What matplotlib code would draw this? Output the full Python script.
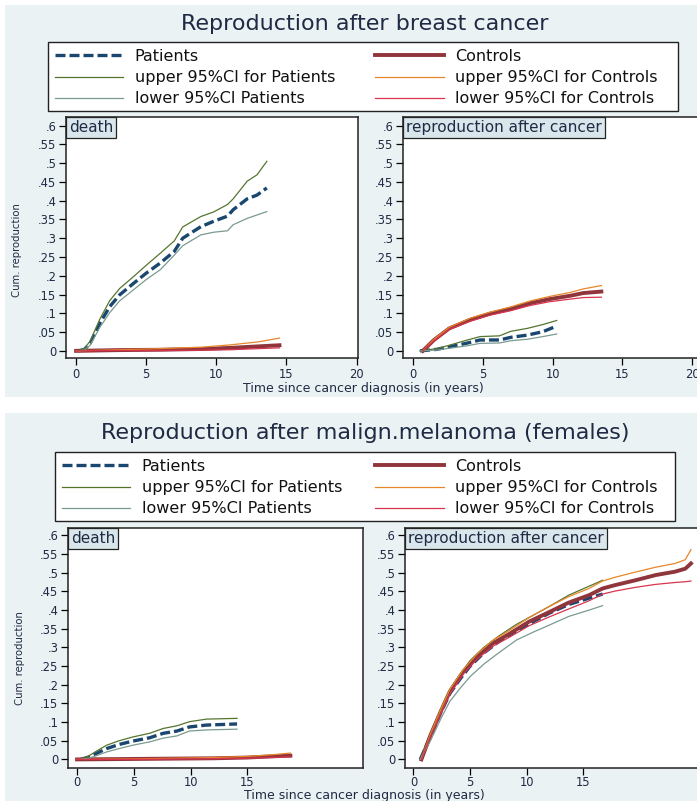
import numpy as np
import matplotlib
matplotlib.use('Agg')
import matplotlib.pyplot as plt
from matplotlib.patches import Rectangle

plt.rcParams['font.family'] = ['DejaVu Sans']

# ---- breast cancer, death ----
bc_d_tp = [0.2, 0.6, 1.0, 1.7, 2.4, 3.1, 4.1, 5.0, 6.0, 7.0, 7.6, 8.9, 9.8, 10.8, 11.2, 12.2, 12.9, 13.6]
bc_d_pat = [0, 0.004, 0.02, 0.074, 0.118, 0.149, 0.18, 0.207, 0.234, 0.265, 0.300, 0.331, 0.345, 0.359, 0.376, 0.405, 0.415, 0.434]
bc_d_pat_hi = [0, 0.007, 0.026, 0.085, 0.134, 0.166, 0.198, 0.228, 0.26, 0.293, 0.33, 0.358, 0.37, 0.39, 0.405, 0.452, 0.469, 0.505]
bc_d_pat_lo = [0, 0.002, 0.015, 0.063, 0.102, 0.133, 0.163, 0.19, 0.216, 0.255, 0.28, 0.309, 0.316, 0.32, 0.336, 0.353, 0.362, 0.371]
bc_d_tc = [0, 3, 6, 9, 11, 13, 14.5]
bc_d_ctl = [0, 0.002, 0.003, 0.005, 0.008, 0.012, 0.015]
bc_d_ctl_hi = [0, 0.003, 0.006, 0.01, 0.016, 0.024, 0.034]
bc_d_ctl_lo = [0, 0.001, 0.001, 0.002, 0.003, 0.006, 0.008]

# ---- breast cancer, reproduction after cancer ----
bc_r_tp = [0.5, 1.7, 2.6, 3.8, 4.8, 6.2, 7.0, 8.2, 9.3, 10.3]
bc_r_pat = [0, 0.004, 0.011, 0.02, 0.029, 0.029, 0.036, 0.042, 0.051, 0.066]
bc_r_pat_hi = [0, 0.006, 0.015, 0.028, 0.038, 0.04, 0.052, 0.06, 0.07, 0.081]
bc_r_pat_lo = [0, 0.002, 0.007, 0.013, 0.02, 0.021, 0.027, 0.031, 0.038, 0.045]
bc_r_tc = [0.7, 1.5, 2.6, 4.1, 5.5, 7.0, 8.4, 9.8, 11.3, 12.2, 13.5]
bc_r_ctl = [0, 0.029, 0.06, 0.083, 0.099, 0.112, 0.127, 0.138, 0.147, 0.154, 0.158]
bc_r_ctl_hi = [0, 0.031, 0.063, 0.087, 0.103, 0.117, 0.133, 0.145, 0.156, 0.165, 0.174]
bc_r_ctl_lo = [0, 0.027, 0.057, 0.079, 0.095, 0.107, 0.121, 0.131, 0.138, 0.142, 0.143]

# ---- melanoma, death ----
mm_d_tp = [0.3, 1.0, 1.7, 2.6, 3.7, 4.9, 6.4, 7.6, 8.8, 9.9, 11.4, 14.1]
mm_d_pat = [0, 0.006, 0.016, 0.029, 0.04, 0.049, 0.058, 0.07, 0.076, 0.087, 0.092, 0.095]
mm_d_pat_hi = [0, 0.009, 0.022, 0.038, 0.05, 0.06, 0.07, 0.083, 0.09, 0.101, 0.108, 0.11]
mm_d_pat_lo = [0, 0.003, 0.01, 0.02, 0.029, 0.038, 0.047, 0.057, 0.063, 0.076, 0.079, 0.081]
mm_d_tc = [0, 4, 8, 12, 15, 17, 18.8]
mm_d_ctl = [0, 0.001, 0.002, 0.003, 0.005, 0.008, 0.01]
mm_d_ctl_hi = [0, 0.001, 0.003, 0.005, 0.008, 0.012, 0.017]
mm_d_ctl_lo = [0, 0.0, 0.001, 0.002, 0.003, 0.005, 0.007]

# ---- melanoma, reproduction after cancer ----
mm_r_tp = [0.6, 1.5, 2.4, 3.2, 4.1, 5.0, 6.2, 7.5, 9.1, 10.5, 12.0, 13.7, 15.5, 16.7]
mm_r_pat = [0, 0.062, 0.125, 0.176, 0.215, 0.25, 0.285, 0.315, 0.345, 0.368, 0.392, 0.415, 0.432, 0.443]
mm_r_pat_hi = [0, 0.068, 0.135, 0.188, 0.228, 0.265, 0.3, 0.33, 0.362, 0.385, 0.41, 0.44, 0.464, 0.48]
mm_r_pat_lo = [0, 0.05, 0.108, 0.155, 0.19, 0.222, 0.255, 0.285, 0.32, 0.34, 0.36, 0.383, 0.4, 0.412]
mm_r_tc = [0.7, 1.5, 2.4, 3.2, 4.4, 5.6, 7.0, 8.5, 10.2, 12.0, 13.7, 15.5, 16.7, 17.8, 19.6, 21.4, 23.1, 24.0, 24.5]
mm_r_ctl = [0, 0.065, 0.128, 0.181, 0.235, 0.275, 0.311, 0.337, 0.369, 0.395, 0.42, 0.44, 0.458, 0.467, 0.48, 0.494, 0.503, 0.511, 0.525]
mm_r_ctl_hi = [0, 0.068, 0.133, 0.187, 0.241, 0.282, 0.319, 0.346, 0.38, 0.41, 0.436, 0.458, 0.478, 0.488, 0.502, 0.515, 0.525, 0.535, 0.562]
mm_r_ctl_lo = [0, 0.062, 0.123, 0.175, 0.229, 0.268, 0.303, 0.328, 0.358, 0.382, 0.403, 0.425, 0.443, 0.451, 0.461, 0.469, 0.474, 0.476, 0.478]

labels = ['Patients', 'upper 95%CI for Patients', 'lower 95%CI Patients',
          'Controls', 'upper 95%CI for Controls', 'lower 95%CI for Controls']
yticks = np.arange(0, 0.61, 0.05)
yticklabels = ['0'] + [('%.2f' % v).rstrip('0')[1:] for v in yticks[1:]]

c_pat, c_ctl = '#1A476F', '#90353B'
c_pat_hi, c_pat_lo = '#55752F', '#7A9A90'
c_ctl_hi, c_ctl_lo = '#E8862A', '#D8344F'
txt = '#1F2A44'
bg = '#EAF2F3'

W, H = 697, 801
fig = plt.figure(figsize=(W/100, H/100), dpi=100)


def frac(x0, y0, x1, y1):
    return [x0/W, 1-y1/H, (x1-x0)/W, (y1-y0)/H]


def curves(ax, tp, p, phi, plo, tc, c, chi, clo):
    h1, = ax.plot(tp, p, color=c_pat, lw=2.4, dashes=(3.0, 1.2), zorder=3)
    h2, = ax.plot(tc, c, color=c_ctl, lw=2.8, zorder=4)
    h3, = ax.plot(tp, phi, color=c_pat_hi, lw=0.9, zorder=5)
    h4, = ax.plot(tc, chi, color=c_ctl_hi, lw=0.9, zorder=5)
    h5, = ax.plot(tp, plo, color=c_pat_lo, lw=0.9, zorder=5)
    h6, = ax.plot(tc, clo, color=c_ctl_lo, lw=0.9, zorder=5)
    return [h1, h3, h5, h2, h4, h6]


def style(ax, xlim, ylim, xticks, strip, xpad):
    ax.set_xlim(*xlim)
    ax.set_ylim(*ylim)
    ax.set_xticks(xticks)
    ax.set_yticks(yticks)
    ax.set_yticklabels(yticklabels)
    ax.tick_params(labelsize=8.3, labelcolor=txt, length=5, width=0.9, pad=2)
    ax.tick_params(axis='x', pad=xpad)
    for s in ax.spines.values():
        s.set_linewidth(1.1)
        s.set_color('#222222')
    ax.annotate(strip, xy=(0, 1), xycoords='axes fraction', xytext=(2.3, -2.3),
                textcoords='offset points', ha='left', va='top', fontsize=11,
                color=txt, zorder=10,
                bbox=dict(boxstyle='square,pad=0.18', fc='#D9E6EB', ec='#222222', lw=0.9))


def panel(ybg, title, ytitle, leg_box, colsp, ax_l, ax_r, xlim_l, xlim_r, ylim, xticks,
          death, repro, ylab_xy, xlab_xy, xpad):
    fig.patches.append(Rectangle((5/W, 1-ybg[1]/H), 692/W, (ybg[1]-ybg[0])/H,
                                 transform=fig.transFigure, fc=bg, ec='none', zorder=-10))
    fig.text(365/W, 1-ytitle/H, title, ha='center', va='center', fontsize=16, color=txt)
    a1 = fig.add_axes(frac(*ax_l))
    a2 = fig.add_axes(frac(*ax_r))
    hs = curves(a1, *death)
    curves(a2, *repro)
    style(a1, xlim_l, ylim, xticks, 'death', xpad)
    style(a2, xlim_r, ylim, xticks, 'reproduction after cancer', xpad)
    # legend frame
    lb = frac(*leg_box)
    fig.patches.append(Rectangle((lb[0], lb[1]), lb[2], lb[3], transform=fig.transFigure,
                                 fc='white', ec='#222222', lw=1.0, zorder=-5))
    leg = fig.legend(hs, labels, ncol=2, loc='upper left',
                     bbox_to_anchor=(lb[0], lb[1] + lb[3]),
                     bbox_transform=fig.transFigure, borderaxespad=0, frameon=False,
                     fontsize=11.5, handlelength=4.3, handletextpad=0.7,
                     labelspacing=0.4, borderpad=0.42, columnspacing=colsp)
    for t in leg.get_texts():
        t.set_color('#111111')
    fig.text(ylab_xy[0]/W, 1-ylab_xy[1]/H, 'Cum. reproduction', rotation=90,
             ha='center', va='center', fontsize=7.3, color=txt)
    fig.text(xlab_xy[0]/W, 1-xlab_xy[1]/H, 'Time since cancer diagnosis (in years)',
             ha='center', va='center', fontsize=9.0, color=txt)


panel((5, 397), 'Reproduction after breast cancer', 24, (48, 42, 678, 111), 2.5,
      (66, 117, 358, 358), (403, 117, 699, 358), (-0.72, 20.1), (-0.72, 20.5),
      (-0.019, 0.623), [0, 5, 10, 15, 20],
      (bc_d_tp, bc_d_pat, bc_d_pat_hi, bc_d_pat_lo, bc_d_tc, bc_d_ctl, bc_d_ctl_hi, bc_d_ctl_lo),
      (bc_r_tp, bc_r_pat, bc_r_pat_hi, bc_r_pat_lo, bc_r_tc, bc_r_ctl, bc_r_ctl_hi, bc_r_ctl_lo),
      (17, 250), (363, 388), 2)

panel((413, 801), 'Reproduction after malign.melanoma (females)', 433, (55, 452, 675, 521), 2.1,
      (68, 528, 363, 768), (405, 528, 700, 768), (-0.8, 25.2), (-0.75, 25.3),
      (-0.023, 0.62), [0, 5, 10, 15],
      (mm_d_tp, mm_d_pat, mm_d_pat_hi, mm_d_pat_lo, mm_d_tc, mm_d_ctl, mm_d_ctl_hi, mm_d_ctl_lo),
      (mm_r_tp, mm_r_pat, mm_r_pat_hi, mm_r_pat_lo, mm_r_tc, mm_r_ctl, mm_r_ctl_hi, mm_r_ctl_lo),
      (20, 658), (364, 795.5), 1)

fig.savefig('out.png', dpi=100, facecolor='white')
